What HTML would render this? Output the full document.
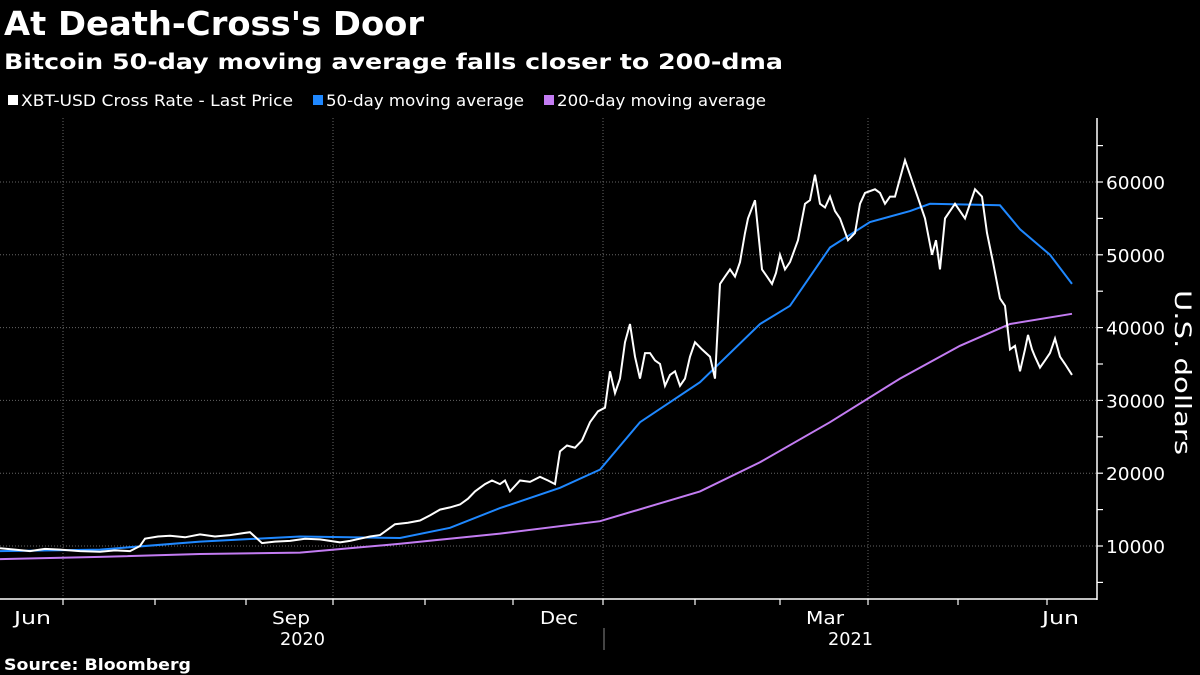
<!DOCTYPE html>
<html><head><meta charset="utf-8"><style>
body{margin:0;background:#000;width:1200px;height:675px;overflow:hidden;font-family:"DejaVu Sans","Liberation Sans",sans-serif;color:#fff}
</style></head><body>
<svg id="s" width="1200" height="675" xmlns="http://www.w3.org/2000/svg" style="position:absolute;left:0;top:0" font-family="DejaVu Sans, Liberation Sans, sans-serif">
<text x="4" y="35" font-size="33" font-weight="bold" fill="#fff" textLength="420" lengthAdjust="spacingAndGlyphs">At Death-Cross's Door</text>
<text x="4" y="69" font-size="21" font-weight="bold" fill="#fff" textLength="779" lengthAdjust="spacingAndGlyphs">Bitcoin 50-day moving average falls closer to 200-dma</text>
<rect x="8" y="95" width="10" height="10" fill="#fff"/>
<text x="21" y="106" font-size="16" fill="#fff" textLength="272" lengthAdjust="spacingAndGlyphs">XBT-USD Cross Rate - Last Price</text>
<rect x="313" y="95" width="10" height="10" fill="#1f88ff"/>
<text x="326" y="106" font-size="16" fill="#fff" textLength="198" lengthAdjust="spacingAndGlyphs">50-day moving average</text>
<rect x="544" y="95" width="10" height="10" fill="#c37cf2"/>
<text x="557" y="106" font-size="16" fill="#fff" textLength="209" lengthAdjust="spacingAndGlyphs">200-day moving average</text>
<g id="grid" stroke="#666" stroke-width="1" stroke-dasharray="1,2"></g>
<g id="lines" fill="none" stroke-width="2"></g>
<g stroke="#fff" stroke-width="1.5">
<line x1="1097" y1="118" x2="1097" y2="600"/>
<line x1="0" y1="599" x2="1097" y2="599"/>
</g>
<g id="ticks" stroke="#fff" stroke-width="1.2"></g>
<g font-size="18" fill="#fff" id="ylab"></g>
<g font-size="18" fill="#fff">
<text x="14" y="624" textLength="37" lengthAdjust="spacingAndGlyphs">Jun</text>
<text x="272" y="624" textLength="38" lengthAdjust="spacingAndGlyphs">Sep</text>
<text x="540" y="624" textLength="38" lengthAdjust="spacingAndGlyphs">Dec</text>
<text x="806" y="624" textLength="38" lengthAdjust="spacingAndGlyphs">Mar</text>
<text x="1042" y="624" textLength="37" lengthAdjust="spacingAndGlyphs">Jun</text>
<text x="280" y="645" textLength="45" lengthAdjust="spacingAndGlyphs">2020</text>
<text x="828" y="645" textLength="45" lengthAdjust="spacingAndGlyphs">2021</text>
</g>
<line x1="604" y1="628" x2="604" y2="650" stroke="#888"/>
<text x="1175" y="290" font-size="22" fill="#fff" transform="rotate(90 1175 290)" textLength="165" lengthAdjust="spacingAndGlyphs">U.S. dollars</text>
<text x="4" y="670" font-size="16" font-weight="bold" fill="#fff" textLength="187" lengthAdjust="spacingAndGlyphs">Source: Bloomberg</text>
</svg>
<script>
const Y=v=>546-(v-10000)*0.00728;
const ns="http://www.w3.org/2000/svg";
function el(p,t,a,txt){const e=document.createElementNS(ns,t);for(const k in a)e.setAttribute(k,a[k]);if(txt)e.textContent=txt;document.getElementById(p).appendChild(e);}
for(let v=10000;v<=60000;v+=10000){el('grid','line',{x1:0,x2:1097,y1:Y(v),y2:Y(v)});el('ylab','text',{x:1106,y:Y(v)+7,textLength:59,lengthAdjust:'spacingAndGlyphs'},String(v));}
for(let v=5000;v<=65000;v+=5000)el('ticks','line',{x1:1097,x2:1103,y1:Y(v),y2:Y(v)});
[63,333,603,868].forEach(x=>el('grid','line',{x1:x,x2:x,y1:118,y2:599}));
[63,155,246,333,425,513,603,695,780,868,958,1047].forEach(x=>el('ticks','line',{x1:x,x2:x,y1:599,y2:605}));
function path(pts,c){el('lines','polyline',{points:pts.map(p=>p[0]+','+Y(p[1]).toFixed(1)).join(' '),stroke:c});}
const m200=[[0,8200],[100,8500],[200,8900],[300,9100],[400,10300],[500,11700],[600,13400],[700,17500],[760,21500],[830,27000],[900,33000],[960,37500],[1010,40500],[1072,41900]];
const m50=[[0,9300],[100,9500],[200,10600],[300,11300],[400,11100],[450,12500],[500,15200],[560,18000],[600,20500],[640,27000],[700,32500],[760,40500],[790,43000],[830,51000],[870,54500],[910,56000],[930,57000],[1000,56800],[1020,53500],[1050,50000],[1072,46000]];
const pr=[[0,9700],[15,9500],[30,9300],[45,9600],[60,9500],[80,9300],[100,9200],[115,9400],[130,9300],[140,10000],[145,11000],[158,11300],[170,11400],[185,11200],[200,11600],[215,11300],[230,11500],[245,11800],[250,11900],[262,10400],[275,10600],[290,10700],[305,11000],[320,10900],[330,10700],[340,10500],[350,10700],[360,11000],[370,11300],[380,11500],[395,13000],[408,13200],[420,13500],[430,14200],[440,15000],[450,15300],[460,15700],[468,16500],[475,17500],[485,18500],[492,19000],[500,18500],[505,19000],[510,17500],[520,19000],[530,18800],[540,19500],[548,19000],[555,18500],[560,23000],[567,23800],[575,23500],[582,24500],[590,27000],[598,28500],[605,29000],[610,34000],[615,31000],[620,33000],[625,38000],[630,40500],[635,36000],[640,33000],[645,36500],[650,36500],[655,35500],[660,35000],[665,32000],[670,33500],[675,34000],[680,32000],[685,33000],[690,36000],[695,38000],[702,37000],[710,36000],[715,33000],[720,46000],[725,47000],[730,48000],[735,47000],[740,49000],[745,53000],[748,55000],[755,57500],[762,48000],[767,47000],[772,46000],[776,47500],[780,50000],[785,48000],[790,49000],[798,52000],[805,57000],[810,57500],[815,61000],[820,57000],[825,56500],[830,58000],[835,56000],[840,55000],[848,52000],[855,53000],[860,57000],[865,58500],[875,59000],[880,58500],[885,57000],[890,58000],[895,58000],[900,60500],[905,63000],[910,61000],[915,59000],[920,57000],[925,55000],[932,50000],[936,52000],[940,48000],[945,55000],[950,56000],[955,57000],[960,56000],[965,55000],[970,57000],[975,59000],[982,58000],[987,53000],[993,49000],[1000,44000],[1005,43000],[1010,37000],[1015,37500],[1020,34000],[1025,37000],[1028,39000],[1032,37000],[1035,36000],[1040,34500],[1045,35500],[1050,36500],[1055,38500],[1060,36000],[1065,35000],[1072,33500]];
path(m200,'#c37cf2');path(m50,'#1f88ff');path(pr,'#fff');
</script>
</body></html>
